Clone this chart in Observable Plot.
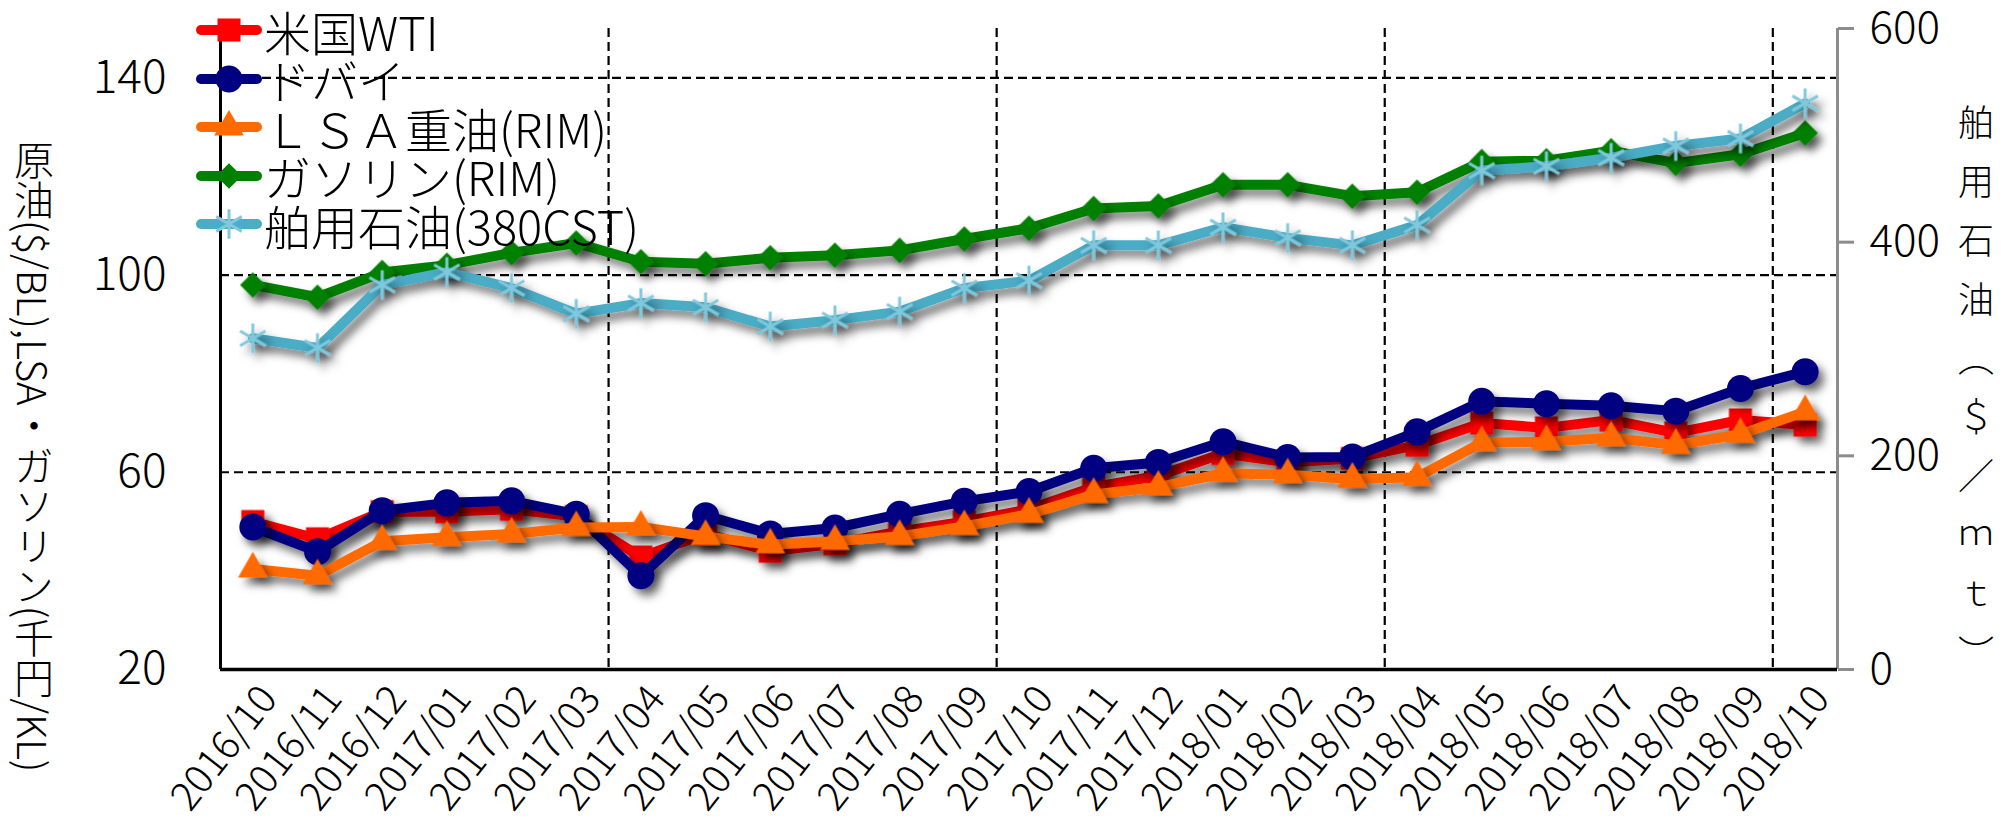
<!DOCTYPE html>
<html><head><meta charset="utf-8">
<script src="https://cdn.jsdelivr.net/npm/d3@7"></script>
<script src="https://cdn.jsdelivr.net/npm/@observablehq/plot@0.6"></script>
<style>
body{margin:0;background:#fff;font-family:"Noto Sans CJK JP","Noto Sans",sans-serif;font-weight:300;color:#000;}
#wrap{position:relative;width:2004px;height:838px;overflow:hidden;}
#chart svg{display:block;}
#chart svg text{font-weight:300;}
.vtitle{position:absolute;writing-mode:vertical-rl;font-family:"Noto Sans CJK JP",sans-serif;font-weight:300;line-height:1;white-space:nowrap;}
#ltitle{left:14px;top:140px;font-size:40px;}
#rtitle{left:1958px;top:104px;font-size:36px;letter-spacing:23px;}
#legend{position:absolute;left:196px;top:6px;}
.lrow{display:flex;align-items:center;height:48.5px;}
.lrow span{font-size:47px;margin-left:2px;line-height:1;white-space:nowrap;font-weight:300;}
</style></head>
<body>
<div id="wrap"><div id="chart"></div>
<div id="ltitle" class="vtitle">原油($/BL),LSA・ガソリン(千円/KL)</div>
<div id="rtitle" class="vtitle">舶用石油（＄／ｍｔ）</div>
<div id="legend"></div>
</div>
<script>
const months = ["2016/10","2016/11","2016/12","2017/01","2017/02","2017/03","2017/04","2017/05","2017/06","2017/07","2017/08","2017/09","2017/10","2017/11","2017/12","2018/01","2018/02","2018/03","2018/04","2018/05","2018/06","2018/07","2018/08","2018/09","2018/10"];
const wti      = [50, 46.5, 52, 52, 52.5, 51, 42.8, 47.5, 44, 45.5, 48, 50, 52.5, 57, 59.3, 63.8, 62, 62.8, 65.5, 70, 69, 70.6, 68, 70.6, 69.6];
const dubai    = [48.9, 43.9, 52.2, 53.8, 54.2, 51.5, 39, 51.2, 47.5, 48.7, 51.5, 54.1, 56.1, 60.8, 62, 66.2, 63, 63.1, 68.2, 74.4, 73.9, 73.5, 72.4, 77, 80.4];
const lsa      = [40.4, 39, 46, 46.8, 47.5, 48.8, 48.9, 47, 45.3, 46, 47, 49, 51.5, 55.5, 57, 59.8, 59.5, 58.6, 59, 66, 66.2, 67, 65.5, 67.7, 72.3];
const gasoline = [98, 95.5, 100.5, 102, 104.5, 106.5, 102.7, 102.3, 103.5, 104, 105, 107.3, 109.5, 113.5, 114, 118.3, 118.3, 116, 116.8, 123, 123.2, 125.2, 122.7, 124.5, 128.8];
const bunker   = [310, 301, 360, 372, 357, 333, 343, 339, 321, 327, 335, 357, 364, 397, 397, 414, 404, 397, 416, 467, 471, 479, 490, 497, 530];
const seriesNames = ["米国WTI","ドバイ","ＬＳＡ重油(RIM)","ガソリン(RIM)","舶用石油(380CST)"];
const leftTicks = [20, 60, 100, 140];
const rightTicks = [0, 200, 400, 600];
const leftDomain = [20, 150];
const rightDomain = [0, 600];

const toLeft = v => leftDomain[0] + (v - rightDomain[0]) * (leftDomain[1] - leftDomain[0]) / (rightDomain[1] - rightDomain[0]);
const idx = (d, i) => i;
const boundaries = months.map((m, i) => i).filter(i => i > 0 && (months[i].endsWith("/04") || months[i].endsWith("/10"))).map(i => i - 0.5);

const styles = [
  {data: wti, stroke: "#ff0000", symbol: "square", r: 13, fill: "#ff0000"},
  {data: dubai, stroke: "#000080", symbol: "circle", r: 13.5, fill: "#000080"},
  {data: lsa, stroke: "#ff6a00", symbol: "triangle", r: 11, fill: "#ff6a00"},
  {data: gasoline, stroke: "#008000", symbol: "diamond2", r: 11.5, fill: "#008000"},
  {data: bunker.map(toLeft), stroke: "#4bacc6", symbol: "asterisk", r: 14, fill: "none", mstroke: "#80c8dc"}
];

const seriesMarks = styles.flatMap(s => [
  Plot.line(s.data, {x: idx, y: d => d, stroke: s.stroke, strokeWidth: 10, strokeLinejoin: "round", strokeLinecap: "round"}),
  Plot.dot(s.data, {x: idx, y: d => d, symbol: s.symbol, r: s.r,
    fill: s.fill === "none" ? null : s.fill,
    stroke: s.mstroke || null, strokeWidth: s.mstroke ? 3 : null})
]);

const svg = Plot.plot({
  width: 2004, height: 838,
  marginLeft: 220, marginRight: 167, marginTop: 28, marginBottom: 169,
  style: {fontFamily: '"Noto Sans CJK JP", sans-serif', background: "#fff", color: "#000"},
  x: {type: "linear", domain: [-0.5, months.length - 0.5], axis: null},
  y: {domain: leftDomain, axis: null},
  marks: [
    Plot.gridY(leftTicks.filter(t => t > leftDomain[0]), {stroke: "#000", strokeOpacity: 1, strokeWidth: 2.2, strokeDasharray: "9,5"}),
    Plot.ruleX(boundaries, {stroke: "#000", strokeWidth: 2.2, strokeDasharray: "9,5"}),
    Plot.ruleX([-0.5], {stroke: "#000", strokeWidth: 3}),
    Plot.ruleX([months.length - 0.5], {stroke: "#8c8c8c", strokeWidth: 3}),
    Plot.axisY(leftTicks, {anchor: "left", tickSize: 0, tickPadding: 54, fontSize: 46, label: null}),
    Plot.axisY(rightTicks, {anchor: "right", y: toLeft, text: d => String(d), tickSize: 16, tickPadding: 16, stroke: "#8c8c8c", strokeWidth: 3, fontSize: 44, label: null}),
    Plot.axisX(months.map(idx), {anchor: "bottom", tickFormat: i => months[i], tickRotate: -52, tickSize: 0, tickPadding: 22, dx: 16, fontSize: 40, label: null}),
    ...seriesMarks,
    Plot.ruleY([leftDomain[0]], {stroke: "#000", strokeWidth: 3.5})
  ]
});

// soft drop shadow like the original
const defs = d3.select(svg).insert("defs", ":first-child");
const f = defs.append("filter").attr("id", "shadow").attr("filterUnits", "userSpaceOnUse")
  .attr("x", 0).attr("y", 0).attr("width", 2004).attr("height", 838);
f.append("feDropShadow").attr("dx", 6).attr("dy", 7).attr("stdDeviation", 4)
  .attr("flood-color", "#000").attr("flood-opacity", 0.5);
d3.select(svg).selectAll('g[aria-label="line"], g[aria-label="dot"]').attr("filter", "url(#shadow)");
d3.select(svg).selectAll('g[aria-label="y-axis tick label"] text').attr("fill", "#000");

document.getElementById("chart").appendChild(svg);

// legend
const legend = d3.select("#legend");
const symMap = {square: d3.symbolSquare, circle: d3.symbolCircle, triangle: d3.symbolTriangle, diamond2: d3.symbolDiamond2, asterisk: d3.symbolAsterisk};
styles.forEach((s, k) => {
  const row = legend.append("div").attr("class", "lrow");
  const sw = row.append("svg").attr("width", 66).attr("height", 40);
  sw.append("line").attr("x1", 5).attr("x2", 61).attr("y1", 20).attr("y2", 20)
    .attr("stroke", s.stroke).attr("stroke-width", 10).attr("stroke-linecap", "round");
  sw.append("path").attr("transform", "translate(33,20)")
    .attr("d", d3.symbol(symMap[s.symbol], Math.PI * s.r * s.r)())
    .attr("fill", s.fill === "none" ? "none" : s.fill)
    .attr("stroke", s.mstroke || "none").attr("stroke-width", s.mstroke ? 3 : 0);
  row.append("span").text(seriesNames[k]);
});
</script>
</body></html>
